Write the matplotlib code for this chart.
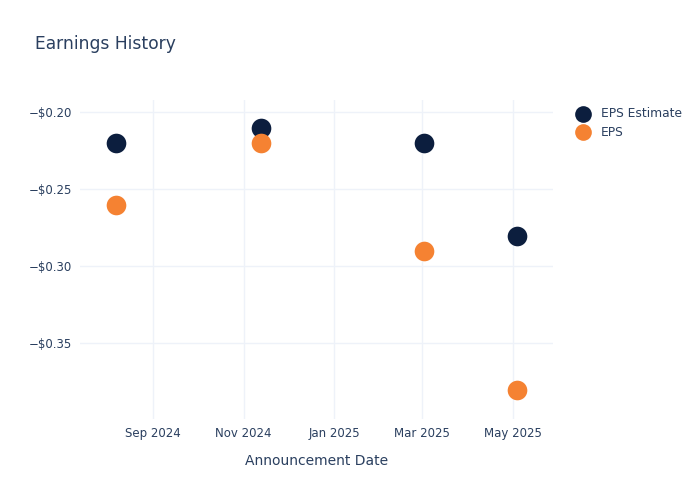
import matplotlib
matplotlib.use("Agg")
import matplotlib.pyplot as plt
import matplotlib.dates as mdates
from matplotlib.ticker import FuncFormatter
import numpy as np

# data
dates = np.array(["2024-08-07", "2024-11-13", "2025-03-02", "2025-05-04"], dtype="datetime64[D]")
eps_estimate = [-0.22, -0.21, -0.22, -0.28]
eps_actual = [-0.26, -0.22, -0.29, -0.38]

text_col = "#2a3f5f"
grid_col = "#eef2f9"
navy = "#0c1e3e"
orange = "#f58232"

plt.rcParams["font.family"] = "DejaVu Sans"

fig = plt.figure(figsize=(7, 5), dpi=100)
ax = fig.add_axes([80 / 700, 81 / 500, 473 / 700, 319 / 500])

ax.scatter(dates, eps_estimate, s=200, color=navy, label="EPS Estimate", zorder=3, linewidths=0)
ax.scatter(dates, eps_actual, s=200, color=orange, label="EPS", zorder=3, linewidths=0)

ax.set_xlim(np.datetime64("2024-07-14"), np.datetime64("2025-05-28"))
ax.set_ylim(-0.399, -0.192)

ax.xaxis.set_major_locator(mdates.MonthLocator(bymonth=[1, 3, 5, 9, 11]))
ax.xaxis.set_major_formatter(mdates.DateFormatter("%b %Y"))
ax.set_yticks([-0.35, -0.30, -0.25, -0.20])
ax.yaxis.set_major_formatter(FuncFormatter(lambda v, p: "\u2212$%.2f" % abs(v)))

for s in ax.spines.values():
    s.set_visible(False)
ax.grid(True, color=grid_col, linewidth=1)
ax.set_axisbelow(True)
ax.tick_params(length=0, colors=text_col, labelsize=8.5, pad=6)

ax.set_xlabel("Announcement Date", color=text_col, fontsize=10, labelpad=10)
fig.text(35 / 700, 1 - 44 / 500, "Earnings History", color=text_col, fontsize=12.3, va="center")

leg = ax.legend(loc="upper left", bbox_to_anchor=(1.015, 1.012), frameon=False,
                fontsize=8.8, labelcolor=text_col, handletextpad=0.45, labelspacing=0.45,
                markerscale=0.85)

fig.savefig("out.png", dpi=100)
